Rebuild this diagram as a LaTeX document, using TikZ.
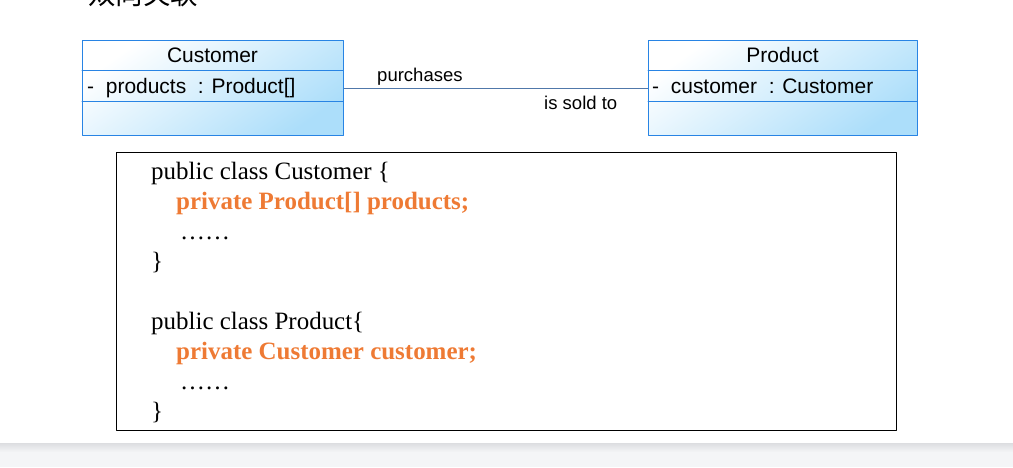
\documentclass[tikz,border=0pt]{standalone}
\usepackage{fontspec}
\setmainfont{Liberation Serif}
\newfontfamily\umlfont{Liberation Sans}
\newfontfamily\cjkfont{Noto Sans CJK SC}
\definecolor{umlblue}{RGB}{40,132,228}
\definecolor{umlfill}{RGB}{172,222,250}
\definecolor{assocline}{RGB}{80,120,170}
\definecolor{codeorange}{RGB}{238,122,52}
\definecolor{bandgray}{RGB}{244,245,247}
\definecolor{bandshadow}{RGB}{220,221,224}
\tikzset{
	classbox/.style={draw=umlblue, line width=0.85pt, top color=white, bottom color=umlfill, shading angle=35, inner sep=0pt, anchor=north west},
	classline/.style={draw=umlblue, line width=0.85pt},
	umltext/.style={font=\umlfont\fontsize{17.9}{20}\selectfont, inner sep=0pt},
	assoctext/.style={font=\umlfont\fontsize{15.8}{18}\selectfont, inner sep=0pt, anchor=base west},
	codetext/.style={font=\fontsize{21.3}{25}\selectfont, inner sep=0pt, anchor=base west},
	codebold/.style={font=\fontsize{21.3}{25}\selectfont\bfseries, text=codeorange, inner sep=0pt, anchor=base west},
}
\begin{document}
\begin{tikzpicture}[x=0.03cm, y=-0.03cm, line join=round, line cap=round]
	\def\px{0.03cm} % one pixel of the slide
	\useasboundingbox (0,0) rectangle (1013,467);
	\clip (0,0) rectangle (1013,467);
	% cut-off slide title
	\node[font=\cjkfont\fontsize{23.5}{28}\selectfont, inner sep=0pt, anchor=base west] (title) at (88,4) {双向关联};
	% the two classes
	\node[classbox, minimum width=261*\px, minimum height=95*\px] (cust) at (82,40) {};
	\node[classbox, minimum width=269*\px, minimum height=95*\px] (prod) at (648,40) {};
	\draw[classline] (cust.north west) ++(0,30) -- ++(261,0);
	\draw[classline] (cust.north west) ++(0,61) -- ++(261,0);
	\draw[classline] (prod.north west) ++(0,30) -- ++(269,0);
	\draw[classline] (prod.north west) ++(0,61) -- ++(269,0);
	\node[umltext, anchor=base] (custname) at (212.5,62) {Customer};
	\node[umltext, anchor=base west] (custattr) at (87,93) {-~~products~~: Product[]};
	\node[umltext, anchor=base] (prodname) at (782.5,62) {Product};
	\node[umltext, anchor=base west] (prodattr) at (652,93) {-~~customer~~: Customer};
	% association
	\draw[assocline, line width=0.7pt] (cust) -- (prod);
	\node[assoctext] (purch) at (377,81) {purchases};
	\node[assoctext] (sold) at (544,109) {is sold to};
	% the code
	\node[draw, line width=1.1pt, minimum width=780*\px, minimum height=278*\px, inner sep=0pt, anchor=north west] (code) at (116,152) {};
	\node[codetext] (c1) at (151,179) {public class Customer {\{}};
	\node[codebold] (c2) at (176,209) {private Product[] products;};
	\node[codetext] (c3) at (180,239) {……};
	\node[codetext] (c4) at (151,269) {\}};
	\node[codetext] (p1) at (151,329) {public class Product\{};
	\node[codebold] (p2) at (176,359) {private Customer customer;};
	\node[codetext] (p3) at (180,389) {……};
	\node[codetext] (p4) at (151,419) {\}};
	% grey band at the foot of the slide
	\fill[bandgray] (0,443) rectangle (1013,467);
	\shade[top color=bandshadow, bottom color=bandgray] (0,443) rectangle (1013,452);
\end{tikzpicture}
\end{document}
